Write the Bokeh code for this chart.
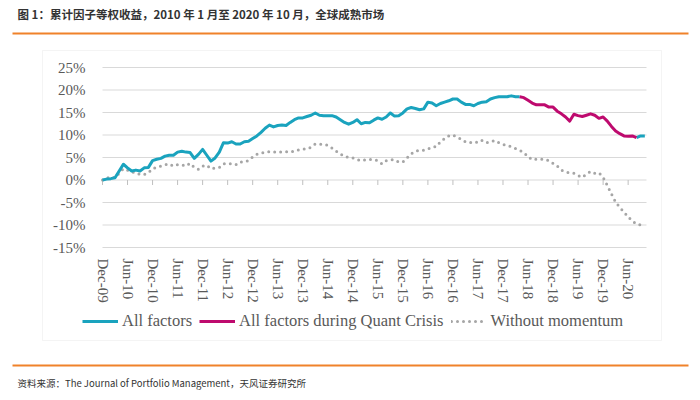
import numpy as np
from bokeh.plotting import figure
from bokeh.models import (ColumnDataSource, Range1d, FixedTicker, Legend, LegendItem,
                          Label, BoxAnnotation, LinearAxis)
from bokeh.embed import file_html
from bokeh.resources import INLINE

# ---------------- data ----------------
title_text = "图 1：累计因子等权收益，2010 年 1 月至 2020 年 10 月，全球成熟市场"
source_text = "资料来源：The Journal of Portfolio Management，天风证券研究所"

# monthly cumulative returns (%), month 0 = Dec-09, month 130 = Oct-20
all_factors = [
    0.0, 0.2, 0.3, 0.5, 2.0, 3.5, 2.7, 2.0, 2.2, 2.0, 2.7, 2.8,
    4.3, 4.6, 4.8, 5.3, 5.5, 5.5, 6.2, 6.4, 6.2, 6.1, 4.8, 5.7,
    6.8, 5.5, 4.2, 4.9, 6.2, 8.3, 8.2, 8.5, 8.0, 8.0, 8.5, 8.6,
    9.2, 9.8, 10.6, 11.5, 12.2, 11.8, 12.1, 12.2, 12.1, 12.8, 13.4, 13.8,
    13.8, 14.1, 14.4, 14.9, 14.4, 14.3, 14.3, 14.3, 14.0, 13.4, 12.8, 12.4,
    12.8, 13.4, 12.5, 12.8, 12.7, 13.3, 13.8, 13.5, 14.0, 14.9, 14.2, 14.3,
    14.9, 15.8, 16.1, 15.9, 15.6, 15.8, 17.3, 17.1, 16.5, 17.0, 17.3, 17.6,
    18.0, 18.0, 17.3, 16.8, 16.8, 16.5, 17.0, 17.3, 17.4, 18.0, 18.3, 18.5,
    18.5, 18.5, 18.7, 18.5, 18.5, 18.3, 17.7, 17.1, 16.7, 16.7, 16.7, 16.2,
    16.2, 15.3, 14.7, 14.0, 13.1, 14.6, 14.3, 14.1, 14.4, 14.7, 14.4, 13.7,
    14.0, 13.1, 11.9, 10.9, 10.3, 9.8, 9.7, 9.8, 9.4, 9.8, 9.8,
]
without_momentum = [
    0.0, 0.4, 0.7, 0.5, 1.5, 2.5, 2.2, 1.8, 1.6, 1.2, 1.2, 1.6,
    2.5, 2.8, 3.1, 3.4, 3.6, 3.1, 3.4, 3.4, 3.1, 3.7, 2.8, 2.4,
    3.1, 3.3, 2.5, 2.7, 2.8, 3.6, 3.7, 3.6, 3.4, 4.0, 4.0, 4.3,
    5.1, 5.7, 6.0, 6.1, 6.3, 6.2, 6.3, 6.2, 6.3, 6.2, 6.4, 6.7,
    6.9, 6.9, 7.3, 8.0, 8.0, 7.9, 7.7, 7.1, 6.4, 5.8, 5.2, 5.1,
    4.9, 4.5, 4.3, 4.5, 4.6, 4.5, 4.3, 3.6, 4.3, 4.5, 4.5, 4.0,
    4.0, 4.9, 5.8, 6.4, 6.6, 6.6, 6.9, 7.3, 7.4, 8.5, 9.2, 9.8,
    10.0, 9.5, 9.1, 8.5, 8.3, 8.5, 8.3, 8.8, 8.3, 8.5, 8.8, 8.3,
    7.9, 7.7, 7.4, 7.0, 6.6, 6.1, 5.2, 4.5, 4.6, 4.6, 4.6, 4.3,
    3.7, 3.1, 2.2, 1.8, 1.6, 1.5, 1.0, 0.6, 1.3, 1.9, 1.5, 1.6,
    0.6, -1.2, -3.1, -4.9, -6.1, -7.1, -8.2, -9.1, -9.8, -10.0, -9.7,
]
crisis_start = 100   # month index where the Quant Crisis segment begins
crisis_end = 128     # month index where it ends

tick_labels = ["Dec-09", "Jun-10", "Dec-10", "Jun-11", "Dec-11", "Jun-12", "Dec-12",
               "Jun-13", "Dec-13", "Jun-14", "Dec-14", "Jun-15", "Dec-15", "Jun-16",
               "Dec-16", "Jun-17", "Dec-17", "Jun-18", "Dec-18", "Jun-19", "Dec-19",
               "Jun-20"]
tick_months = [6 * i for i in range(len(tick_labels))]
y_ticks = [-15, -10, -5, 0, 5, 10, 15, 20, 25]

series_names = ["All factors", "All factors during Quant Crisis", "Without momentum"]

# ---------------- layout constants ----------------
TEAL = "#1AA3BE"
MAGENTA = "#BE0A6E"
GRAY = "#A6A6A6"
ORANGE = "#F0822A"
LABEL_COLOR = "#595959"
SERIF = "Liberation Serif"
CJK = "Noto Sans CJK SC"

W, H = 700, 400
PL, PR, PT, PB = 102, 646, 67, 247      # plot area in page pixels
X_MAX = 130.4                            # month at right edge of plot area
XS = (PR - PL) / X_MAX                   # px per month
YS = (PB - PT) / (y_ticks[-1] - y_ticks[0])  # px per %
x_start = -PL / XS
x_end = x_start + W / XS
y_top = y_ticks[-1] + PT / YS
y_bot = y_top - H / YS


def dx(px):
    return x_start + px / XS


def dy(py):
    return y_top - py / YS


# ---------------- build ----------------
months = np.arange(len(all_factors))
af = np.array(all_factors, dtype=float)
teal = af.copy()
teal[crisis_start + 1:crisis_end] = np.nan
crisis_idx = months[crisis_start:crisis_end + 1]

src_teal = ColumnDataSource(dict(x=months, y=teal))
src_crisis = ColumnDataSource(dict(x=crisis_idx, y=af[crisis_start:crisis_end + 1]))
src_wm = ColumnDataSource(dict(x=months, y=np.array(without_momentum, dtype=float)))
src_ticks = ColumnDataSource(dict(x=tick_months, y0=[0] * len(tick_months),
                                  y1=[-5 / YS] * len(tick_months)))
src_grid = ColumnDataSource(dict(y=y_ticks, x0=[0] * len(y_ticks),
                                 x1=[X_MAX] * len(y_ticks)))

p = figure(width=W, height=H, output_backend="svg", toolbar_location=None,
           x_range=Range1d(x_start, x_end), y_range=Range1d(y_bot, y_top),
           x_axis_location=None, y_axis_location=None, min_border=0)
p.outline_line_color = None
p.background_fill_color = "white"
p.border_fill_color = "white"
p.grid.visible = False

# axes fixed at the plot-area edges
yax = LinearAxis(fixed_location=0, ticker=FixedTicker(ticks=y_ticks),
                 major_label_overrides={v: f"{v}%" for v in y_ticks},
                 axis_line_color=None, major_tick_line_color=None,
                 minor_tick_line_color=None, major_label_standoff=11,
                 major_label_text_font=SERIF, major_label_text_font_size="15px",
                 major_label_text_color=LABEL_COLOR)
p.add_layout(yax, "left")

xax = LinearAxis(fixed_location=y_ticks[0], ticker=FixedTicker(ticks=tick_months),
                 major_label_overrides={m: l for m, l in zip(tick_months, tick_labels)},
                 major_label_orientation="vertical",
                 axis_line_color=None, major_tick_line_color=None,
                 minor_tick_line_color=None, major_label_standoff=5,
                 major_label_text_font=SERIF, major_label_text_font_size="15px",
                 major_label_text_color=LABEL_COLOR)
p.add_layout(xax, "below")

# chart box and orange rules
p.add_layout(BoxAnnotation(left=dx(42), right=dx(661), top=dy(50), bottom=dy(340),
                           fill_alpha=0, line_color="#D9D9D9", line_width=1))
p.add_layout(BoxAnnotation(left=dx(12), right=dx(688), top=dy(32), bottom=dy(34),
                           fill_color=ORANGE, fill_alpha=1, line_color=None))
p.add_layout(BoxAnnotation(left=dx(12), right=dx(688), top=dy(364), bottom=dy(366),
                           fill_color=ORANGE, fill_alpha=1, line_color=None))

# gridlines and tick marks
p.segment(x0="x0", y0="y", x1="x1", y1="y", source=src_grid,
          line_color="#D9D9D9", line_width=1)
p.segment(x0="x", y0="y0", x1="x", y1="y1", source=src_ticks,
          line_color="#BFBFBF", line_width=1)

# series
r_wm = p.line("x", "y", source=src_wm, line_color=GRAY, line_width=3,
              line_dash="0 6", line_cap="round")
r_teal = p.line("x", "y", source=src_teal, line_color=TEAL, line_width=3,
                line_join="round")
r_crisis = p.line("x", "y", source=src_crisis, line_color=MAGENTA, line_width=3,
                  line_join="round")

legend = Legend(items=[LegendItem(label=series_names[0], renderers=[r_teal]),
                       LegendItem(label=series_names[1], renderers=[r_crisis]),
                       LegendItem(label=series_names[2], renderers=[r_wm])],
                orientation="horizontal", location=(82, H - 331),
                border_line_color=None, background_fill_alpha=0,
                padding=0, margin=0, spacing=7, glyph_width=36, glyph_height=16,
                label_standoff=4, label_text_font=SERIF,
                label_text_font_size="16.5px", label_text_color=LABEL_COLOR)
p.add_layout(legend, "center")

p.add_layout(Label(x=dx(17), y=dy(13), text=title_text, text_font=CJK,
                   text_font_size="11.5px", text_font_style="bold",
                   text_color="#333333",
                   text_baseline="middle", text_align="left"))
p.add_layout(Label(x=dx(17), y=dy(382), text=source_text, text_font=CJK,
                   text_font_size="9.5px", text_color="#333333",
                   text_baseline="middle", text_align="left"))

open("out.html", "w").write(file_html(p, INLINE))
